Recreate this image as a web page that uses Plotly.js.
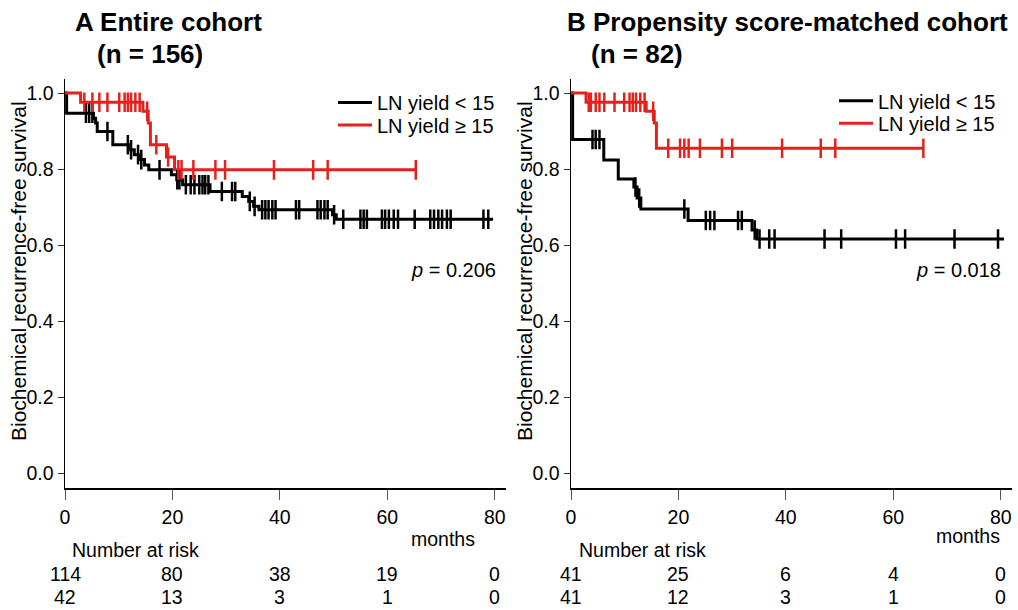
<!DOCTYPE html>
<html>
<head>
<meta charset="utf-8">
<script src="https://cdn.plot.ly/plotly-3.0.1.min.js"></script>
<style>html,body{margin:0;padding:0;background:#fff}#chart{width:1018px;height:610px}</style>
</head>
<body>
<div id="chart"></div>
<script>
// ---------- data ----------
const riskMonths = [0, 20, 40, 60, 80];
const riskA_low  = [114, 80, 38, 19, 0];
const riskA_high = [42, 13, 3, 1, 0];
const riskB_low  = [41, 25, 6, 4, 0];
const riskB_high = [41, 12, 3, 1, 0];

// Panel A, LN yield < 15 : step times and survival
const A_low_t = [0, 0.3, 5.3, 5.7, 6.0, 8.9, 11.8, 12.9, 13.8, 14.8, 15.6, 19.8, 20.8, 21.9, 27.0, 33.0, 34.2, 35.1, 36.1, 49.8, 50.5, 79.7];
const A_low_s = [1.0, 0.947, 0.934, 0.921, 0.899, 0.864, 0.851, 0.838, 0.825, 0.811, 0.798, 0.785, 0.772, 0.759, 0.741, 0.728, 0.715, 0.702, 0.693, 0.680, 0.668, 0.668];
const A_low_cens = [3.9, 4.5, 5.1, 7.9, 11.7, 12.3, 13.6, 14.2, 17.6, 20.9, 21.3, 22.5, 23.4, 24.1, 25.0, 25.6, 26.1, 26.7, 29.2, 31.1, 31.7, 34.4, 35.3, 36.7, 37.3, 37.9, 38.6, 39.2, 43.0, 43.6, 47.0, 47.6, 48.3, 48.9, 50.1, 51.8, 55.0, 55.6, 56.2, 59.0, 59.6, 60.3, 61.2, 62.0, 65.1, 68.0, 68.7, 69.5, 70.2, 71.1, 71.8, 77.9, 78.8];

// Panel A, LN yield >= 15
const A_high_t = [0, 2.9, 14.5, 15.5, 15.9, 18.9, 20.4, 65.4];
const A_high_s = [1.0, 0.976, 0.952, 0.921, 0.864, 0.832, 0.798, 0.798];
const A_high_cens = [3.6, 5.1, 6.4, 7.9, 10.1, 11.1, 11.7, 12.3, 13.1, 13.9, 15.3, 17.0, 19.2, 21.1, 21.7, 23.9, 28.0, 29.8, 38.9, 46.2, 48.9, 65.3];

// Panel B, LN yield < 15
const B_low_t = [0, 0.3, 6.1, 8.8, 11.7, 12.3, 13.0, 21.8, 33.7, 34.6, 80.6];
const B_low_s = [1.0, 0.878, 0.824, 0.774, 0.753, 0.724, 0.695, 0.665, 0.640, 0.616, 0.616];
const B_low_cens = [4.0, 4.6, 5.3, 12.0, 12.7, 21.1, 25.1, 25.9, 26.7, 31.1, 31.8, 34.2, 35.1, 36.9, 37.9, 47.2, 50.3, 60.5, 62.2, 71.4, 79.5];

// Panel B, LN yield >= 15
const B_high_t = [0, 2.8, 14.0, 15.5, 15.9, 65.6];
const B_high_s = [1.0, 0.976, 0.952, 0.921, 0.855, 0.855];
const B_high_cens = [3.3, 3.7, 4.6, 5.3, 6.2, 8.1, 9.9, 10.9, 11.5, 12.1, 12.9, 13.7, 15.3, 18.1, 20.3, 21.1, 21.9, 24.0, 28.1, 30.0, 39.3, 46.5, 49.2, 65.6];

const seriesNames = ['LN yield < 15', 'LN yield \u2265 15'];
const yTicks = [0, 0.2, 0.4, 0.6, 0.8, 1.0];
const xTicks = [0, 20, 40, 60, 80];

// ---------- helpers ----------
function survAt(ts, ss, t) {
  let v = ss[0];
  for (let i = 0; i < ts.length; i++) { if (ts[i] <= t) v = ss[i]; }
  return v;
}
const BLACK = '#000000', RED = '#e5211d';
const FONT = 'Liberation Sans, Arial, Helvetica, sans-serif';

function curve(t, s, color, name, xa, ya, leg) {
  return {x: t, y: s, type: 'scatter', mode: 'lines', line: {shape: 'hv', color: color, width: 3},
          name: name, xaxis: xa, yaxis: ya, legend: leg, showlegend: true, hoverinfo: 'skip'};
}
function marks(cens, t, s, color, xa, ya) {
  return {x: cens, y: cens.map(c => survAt(t, s, c)), type: 'scatter', mode: 'markers',
          marker: {symbol: 'line-ns', size: 14, color: color, line: {color: color, width: 2.5}},
          xaxis: xa, yaxis: ya, showlegend: false, hoverinfo: 'skip'};
}

const traces = [
  curve(A_low_t, A_low_s, BLACK, seriesNames[0], 'x', 'y', 'legend'),
  curve(A_high_t, A_high_s, RED, seriesNames[1], 'x', 'y', 'legend2'),
  marks(A_low_cens, A_low_t, A_low_s, BLACK, 'x', 'y'),
  marks(A_high_cens, A_high_t, A_high_s, RED, 'x', 'y'),
  curve(B_low_t, B_low_s, BLACK, seriesNames[0], 'x2', 'y2', 'legend3'),
  curve(B_high_t, B_high_s, RED, seriesNames[1], 'x2', 'y2', 'legend4'),
  marks(B_low_cens, B_low_t, B_low_s, BLACK, 'x2', 'y2'),
  marks(B_high_cens, B_high_t, B_high_s, RED, 'x2', 'y2')
];

const W = 1018, H = 610;
const px = v => v / W, py = v => 1 - v / H;

function xaxisDef(l, r) {
  return {domain: [px(l), px(r)], range: [0, 82.1], tickvals: xTicks, ticktext: xTicks.map(String),
          ticks: 'outside', ticklen: 10, tickwidth: 1, tickcolor: '#555', showline: true, linewidth: 2.5,
          linecolor: '#000', showgrid: false, zeroline: false, tickfont: {family: FONT, size: 19.5, color: '#000'},
          fixedrange: true};
}
function yaxisDef(anchor) {
  return {domain: [py(487.7), py(79)], range: [-0.038, 1.037], tickvals: yTicks, ticktext: yTicks.map(v => v.toFixed(1)),
          ticks: 'outside', ticklen: 6, tickwidth: 1, tickcolor: '#333', showline: true, linewidth: 1.5,
          linecolor: '#000', showgrid: false, zeroline: false, anchor: anchor,
          tickfont: {family: FONT, size: 19.5, color: '#000'}, fixedrange: true};
}

const ann = [];
function txt(x, y, text, opts) {
  ann.push(Object.assign({x: x, y: y, xref: 'paper', yref: 'paper', text: text, showarrow: false,
    font: {family: FONT, size: 19.5, color: '#000'}, xanchor: 'center', yanchor: 'middle'}, opts || {}));
}
const titleFont = {family: FONT, size: 26, color: '#000'};
// panel titles
txt(px(73), py(22), '<b>A Entire cohort</b>', {xanchor: 'left', font: titleFont});
txt(px(95), py(54), '<b>(n = 156)</b>', {xanchor: 'left', font: titleFont});
txt(px(565), py(22), '<b>B Propensity score-matched cohort</b>', {xanchor: 'left', font: titleFont});
txt(px(589), py(54), '<b>(n = 82)</b>', {xanchor: 'left', font: titleFont});
// y-axis titles
const yTitleFont = {family: FONT, size: 21, color: '#000'};
txt(px(18), py(271), 'Biochemical recurrence-free survival', {textangle: -90, font: yTitleFont});
txt(px(524), py(271), 'Biochemical recurrence-free survival', {textangle: -90, font: yTitleFont});
// p values
txt(px(498), py(270), '<i>p</i> = 0.206', {xanchor: 'right', font: {family: FONT, size: 20, color: '#000'}});
txt(px(1003), py(270), '<i>p</i> = 0.018', {xanchor: 'right', font: {family: FONT, size: 20, color: '#000'}});
// months
txt(px(443), py(539), 'months');
txt(px(968), py(536), 'months');
// number at risk
txt(px(70), py(550), 'Number at risk', {xanchor: 'left'});
txt(px(577), py(550), 'Number at risk', {xanchor: 'left'});
const riskFont = {family: FONT, size: 19.5, color: '#000'};
riskMonths.forEach((m, i) => {
  [['x', riskA_low, 574], ['x', riskA_high, 597], ['x2', riskB_low, 574], ['x2', riskB_high, 597]].forEach(r => {
    ann.push({x: m, y: py(r[2]), xref: r[0], yref: 'paper', text: String(r[1][i]), showarrow: false,
              xanchor: 'center', yanchor: 'middle', font: riskFont});
  });
});

const legendBase = {xanchor: 'left', yanchor: 'middle', bgcolor: 'rgba(0,0,0,0)', borderwidth: 0,
  font: {family: FONT, size: 20, color: '#000'}, itemwidth: 34};

const layout = {
  width: W, height: H, margin: {l: 0, r: 0, t: 0, b: 0}, paper_bgcolor: '#fff', plot_bgcolor: '#fff',
  showlegend: true,
  xaxis: xaxisDef(65, 506), yaxis: yaxisDef('x'),
  xaxis2: xaxisDef(571, 1012), yaxis2: yaxisDef('x2'),
  legend:  Object.assign({x: px(333), y: py(102.5)}, legendBase),
  legend2: Object.assign({x: px(333), y: py(125)}, legendBase),
  legend3: Object.assign({x: px(834), y: py(100.7)}, legendBase),
  legend4: Object.assign({x: px(834), y: py(123.3)}, legendBase),
  annotations: ann
};

Plotly.newPlot('chart', traces, layout, {staticPlot: true, displayModeBar: false});
</script>
</body>
</html>
